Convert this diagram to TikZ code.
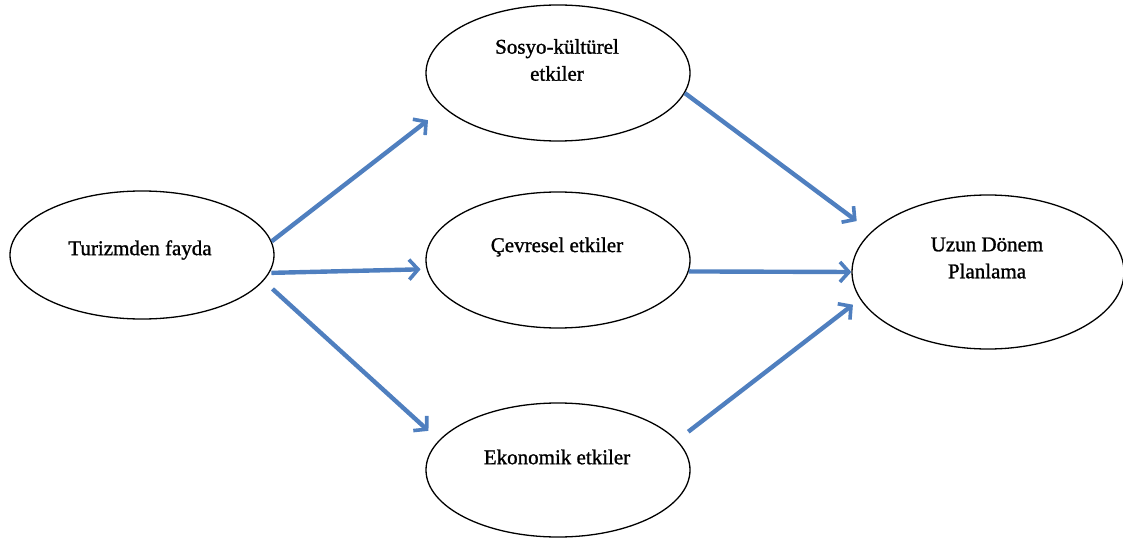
\documentclass[tikz,border=0pt]{standalone}
\usepackage{fontspec}
\setmainfont{Liberation Serif}[BoldFont={Liberation Serif}, BoldFeatures={FakeBold=1.2}]
\usetikzlibrary{shapes.geometric,arrows.meta}
\definecolor{arrblue}{HTML}{4F7FBF}
\tikzset{
  oval/.style={ellipse, draw=black, line width=1.3pt, minimum width=264pt, minimum height=128pt, inner sep=0pt},
  lbl/.style={font=\fontsize{21}{27}\selectfont\bfseries, align=center, inner sep=0pt},
  arr/.style={draw=arrblue, line width=4.4pt, -{Straight Barb[length=9pt,width=20pt,line width=3.6pt]}},
}
\begin{document}
\begin{tikzpicture}[x=1pt,y=-1pt]
\useasboundingbox (0,0) rectangle (1123,545);
\node[oval] (L) at (142,255) {};
\node[oval, minimum height=136pt] (T) at (558,73) {};
\node[oval, minimum height=136pt] (M) at (558,260) {};
\node[oval, minimum height=134pt] (B) at (558,470) {};
\node[oval, minimum width=272pt, minimum height=154pt] (R) at (988,272) {};
\node[lbl] (Lt) at (140,250) {Turizmden fayda};
\node[lbl] (Tt) at (557,60) {Sosyo-kültürel\\etkiler};
\node[lbl] (Mt) at (557,247) {Çevresel etkiler};
\node[lbl] (Bt) at (557,457) {Ekonomik etkiler};
\node[lbl] (Rt) at (987,258) {Uzun Dönem\\Planlama};
\draw[arr, shorten >=20pt] (L.6) -- (T.197);
\draw[arr, shorten >=6pt, shorten <=2pt] (L.-8) -- (M.184);
\draw[arr, shorten >=14pt, shorten <=12pt] (L.-12) -- (B.166);
\draw[arr, shorten >=18pt] (T.-9) -- (R.161);
\draw[arr] (M.-5) -- (R.180);
\draw[arr, shorten >=9pt, shorten <=14pt] (B.14) -- (R.192);
\end{tikzpicture}
\end{document}
